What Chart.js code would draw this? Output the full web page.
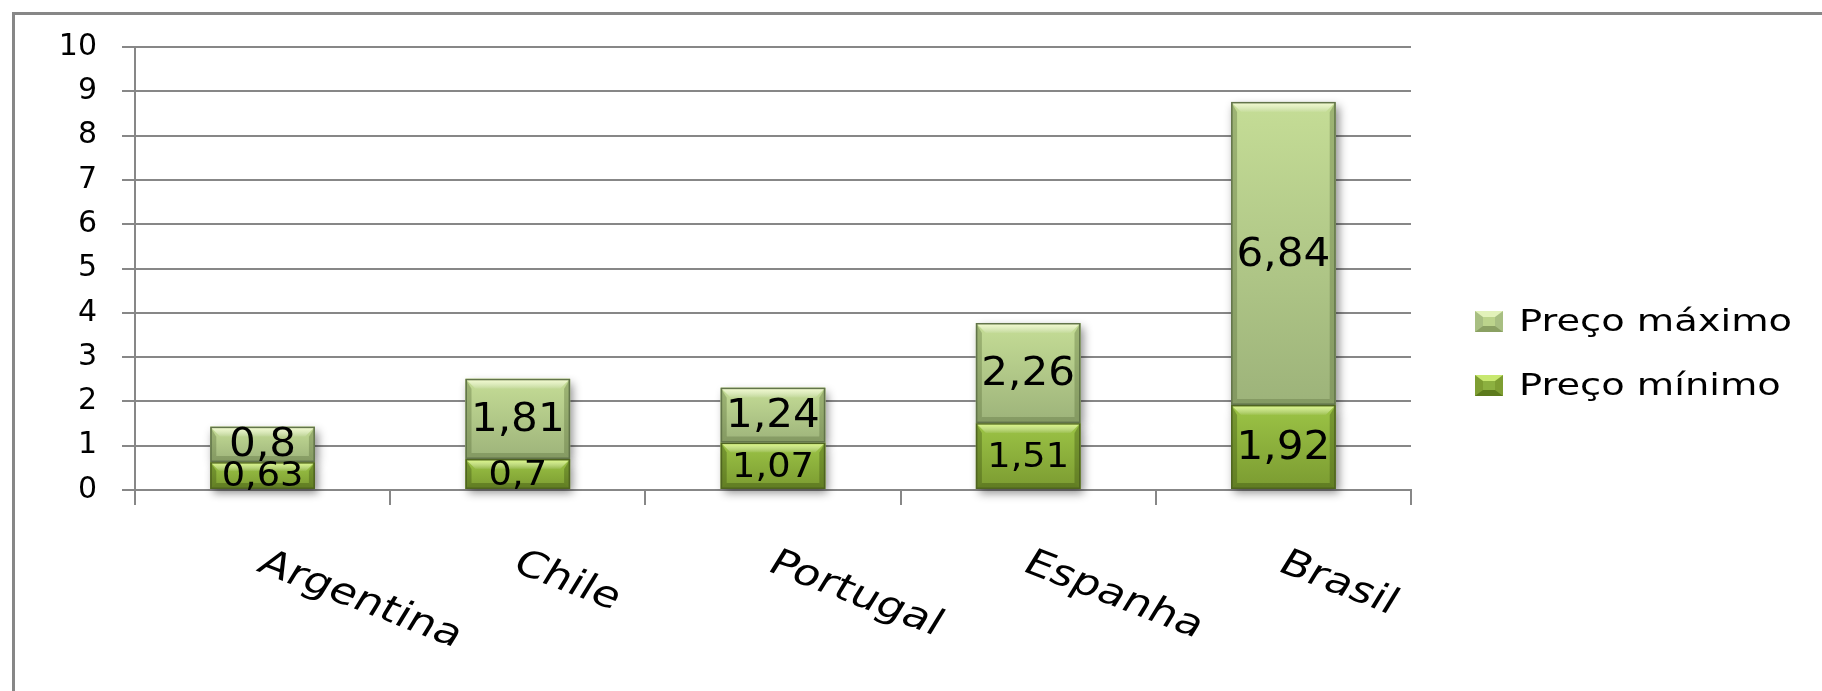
<!DOCTYPE html>
<html lang="pt">
<head>
  <meta charset="UTF-8" />
  <title>Preço mínimo e máximo</title>
  <script src="https://cdn.jsdelivr.net/npm/chart.js"></script>
  <style>
    body { margin: 0; background: #fff; overflow: hidden; }
    .janela { position: relative; width: 1822px; height: 691px; overflow: hidden; }
    .moldura {
      position: absolute; left: 12px; top: 12px; width: 1900px; height: 800px;
      border-left: 3px solid #878787; border-top: 3px solid #878787;
    }
    #grafico { position: absolute; left: 0; top: 0; }
    .legenda { position: absolute; left: 1475px; top: 306px; }
    .item { display: flex; align-items: center; height: 30px; margin-bottom: 34px; }
    .marca { width: 28px; height: 21px; box-sizing: border-box; border-style: solid; border-width: 6px 8px; }
    .texto {
      font-family: 'DejaVu Sans'; font-size: 30px; line-height: 30px; color: #000;
      margin-left: 16px; transform: scaleX(1.28); transform-origin: left center; white-space: nowrap;
    }
  </style>
</head>
<body>
  <div class="janela">
    <div class="moldura"></div>
    <canvas id="grafico" width="1822" height="691"></canvas>
    <div class="legenda" id="legenda"></div>
  </div>

<script>
// dados
var categorias = ['Argentina', 'Chile', 'Portugal', 'Espanha', 'Brasil'];
var precoMinimo = [0.63, 0.7, 1.07, 1.51, 1.92];
var precoMaximo = [0.8, 1.81, 1.24, 2.26, 6.84];
var ticksY = [0, 1, 2, 3, 4, 5, 6, 7, 8, 9, 10];

// cores das barras (estilo excel com bisel)
var estiloMin = {
  topo: '#9cc446', fundo: '#7b9b31', brilho: 'rgba(225,255,130,0.95)',
  lado: 'rgba(55,75,15,0.35)', base: 'rgba(50,70,10,0.35)', contorno: '#4f6420',
  marca: ['#c8e870', '#7e9e32', '#5c7a1c', '#8cb040']
};
var estiloMax = {
  topo: '#c5dd96', fundo: '#9db37a', brilho: 'rgba(248,255,210,0.95)',
  lado: 'rgba(85,105,55,0.35)', base: 'rgba(75,95,45,0.3)', contorno: '#62744a',
  marca: ['#e2f2ba', '#a8bf82', '#8aa062', '#bcd48c']
};

var cinza = '#878787';

function formatar(v) {
  return String(v).replace('.', ',');
}

function desenharBarra(ctx, el, est) {
  var w = el.width;
  var l = el.x - w / 2, r = el.x + w / 2;
  var t = Math.min(el.y, el.base), b = Math.max(el.y, el.base);
  var h = b - t;
  var bv = Math.min(10, h / 3);
  var ls = 6;

  var g = ctx.createLinearGradient(0, t, 0, b);
  g.addColorStop(0, est.topo);
  g.addColorStop(1, est.fundo);
  ctx.fillStyle = g;
  ctx.fillRect(l, t, w, h);

  // bisel de cima
  var gt = ctx.createLinearGradient(0, t, 0, t + bv);
  gt.addColorStop(0, est.brilho);
  gt.addColorStop(1, 'rgba(255,255,255,0.05)');
  ctx.fillStyle = gt;
  ctx.beginPath();
  ctx.moveTo(l, t); ctx.lineTo(r, t); ctx.lineTo(r - bv, t + bv); ctx.lineTo(l + bv, t + bv);
  ctx.closePath(); ctx.fill();

  // lados
  ctx.fillStyle = est.lado;
  ctx.beginPath();
  ctx.moveTo(l, t); ctx.lineTo(l + ls, t + bv); ctx.lineTo(l + ls, b - ls); ctx.lineTo(l, b);
  ctx.closePath(); ctx.fill();
  ctx.beginPath();
  ctx.moveTo(r, t); ctx.lineTo(r - ls, t + bv); ctx.lineTo(r - ls, b - ls); ctx.lineTo(r, b);
  ctx.closePath(); ctx.fill();

  // baixo
  ctx.fillStyle = est.base;
  ctx.beginPath();
  ctx.moveTo(l, b); ctx.lineTo(r, b); ctx.lineTo(r - ls, b - ls); ctx.lineTo(l + ls, b - ls);
  ctx.closePath(); ctx.fill();

  ctx.strokeStyle = est.contorno;
  ctx.lineWidth = 1.5;
  ctx.strokeRect(l + 0.75, t + 0.75, w - 1.5, h - 1.5);
}

var barrasExcel = {
  id: 'barrasExcel',
  beforeDatasetsDraw: function (chart) {
    var ctx = chart.ctx;
    ctx.save();
    ctx.shadowColor = 'rgba(0,0,0,0.45)';
    ctx.shadowBlur = 9;
    ctx.shadowOffsetX = 3;
    ctx.shadowOffsetY = 4;
    ctx.fillStyle = '#fff';
    chart.data.datasets.forEach(function (ds, d) {
      chart.getDatasetMeta(d).data.forEach(function (el) {
        var t = Math.min(el.y, el.base), b = Math.max(el.y, el.base);
        ctx.fillRect(el.x - el.width / 2, t, el.width, b - t);
      });
    });
    ctx.restore();
  },
  afterDatasetsDraw: function (chart) {
    var ctx = chart.ctx;
    ctx.save();
    chart.data.datasets.forEach(function (ds, d) {
      chart.getDatasetMeta(d).data.forEach(function (el) {
        desenharBarra(ctx, el, ds.estilo);
      });
    });
    // rotulos de valor
    ctx.fillStyle = '#000';
    ctx.textAlign = 'center';
    ctx.textBaseline = 'middle';
    chart.data.datasets.forEach(function (ds, d) {
      chart.getDatasetMeta(d).data.forEach(function (el, i) {
        var h = Math.abs(el.base - el.y);
        var tam = (ds.estilo === estiloMax || h > 80) ? 39 : 34;
        ctx.save();
        ctx.translate(el.x, (el.y + el.base) / 2 + 2);
        ctx.scale(1.08, 1);
        ctx.font = tam + 'px "DejaVu Sans"';
        ctx.fillText(formatar(ds.data[i]), 0, 0);
        ctx.restore();
      });
    });
    ctx.restore();
  }
};

// rotulos do eixo x, inclinados para baixo
var rotulosX = {
  id: 'rotulosX',
  afterDraw: function (chart) {
    var ctx = chart.ctx;
    var escalaX = chart.scales.x;
    ctx.save();
    ctx.fillStyle = '#000';
    ctx.font = '36px "DejaVu Sans"';
    ctx.textAlign = 'left';
    ctx.textBaseline = 'alphabetic';
    categorias.forEach(function (c, i) {
      ctx.save();
      ctx.translate(escalaX.getPixelForValue(i) + 7, 547);
      ctx.scale(1.26, 1);
      ctx.rotate(26 * Math.PI / 180);
      ctx.fillText(c, 0, 26);
      ctx.restore();
    });
    ctx.restore();
  }
};

Chart.defaults.font.family = '"DejaVu Sans"';

var dados = {
  labels: categorias,
  datasets: [
    {
      label: 'Preço mínimo',
      data: precoMinimo,
      backgroundColor: '#8cb040',
      borderWidth: 0,
      estilo: estiloMin
    },
    {
      label: 'Preço máximo',
      data: precoMaximo,
      backgroundColor: '#b5cc88',
      borderWidth: 0,
      estilo: estiloMax
    }
  ]
};

var config = {
  type: 'bar',
  data: dados,
  options: {
    responsive: false,
    animation: false,
    barPercentage: 0.41,
    categoryPercentage: 1.0,
    layout: { padding: { left: 15, top: 47, right: 411, bottom: 186 } },
    plugins: {
      legend: { display: false },
      tooltip: { enabled: false }
    },
    scales: {
      x: {
        stacked: true,
        grid: { drawOnChartArea: false, drawTicks: true, tickLength: 15, color: cinza, lineWidth: 2, offset: true },
        border: { display: true, color: cinza, width: 2 },
        ticks: { display: false },
        afterFit: function (s) { s.height = 15; }
      },
      y: {
        stacked: true,
        min: 0,
        max: 10,
        afterBuildTicks: function (s) {
          s.ticks = ticksY.map(function (v) { return { value: v }; });
        },
        ticks: {
          color: '#000',
          font: { size: 30 },
          padding: 25
        },
        grid: { color: cinza, lineWidth: 2, tickLength: 13 },
        border: { color: cinza, width: 2 },
        afterFit: function (s) { s.width = 120; }
      }
    }
  },
  plugins: [barrasExcel, rotulosX]
};

var grafico = new Chart(document.getElementById('grafico'), config);

// legenda em html (ordem invertida como no excel)
var legenda = document.getElementById('legenda');
dados.datasets.slice().reverse().forEach(function (ds) {
  var item = document.createElement('div');
  item.className = 'item';
  var marca = document.createElement('span');
  marca.className = 'marca';
  var m = ds.estilo.marca;
  marca.style.borderColor = m[0] + ' ' + m[1] + ' ' + m[2] + ' ' + m[1];
  marca.style.background = m[3];
  var texto = document.createElement('span');
  texto.className = 'texto';
  texto.textContent = ds.label;
  item.appendChild(marca);
  item.appendChild(texto);
  legenda.appendChild(item);
});
</script>
</body>
</html>
